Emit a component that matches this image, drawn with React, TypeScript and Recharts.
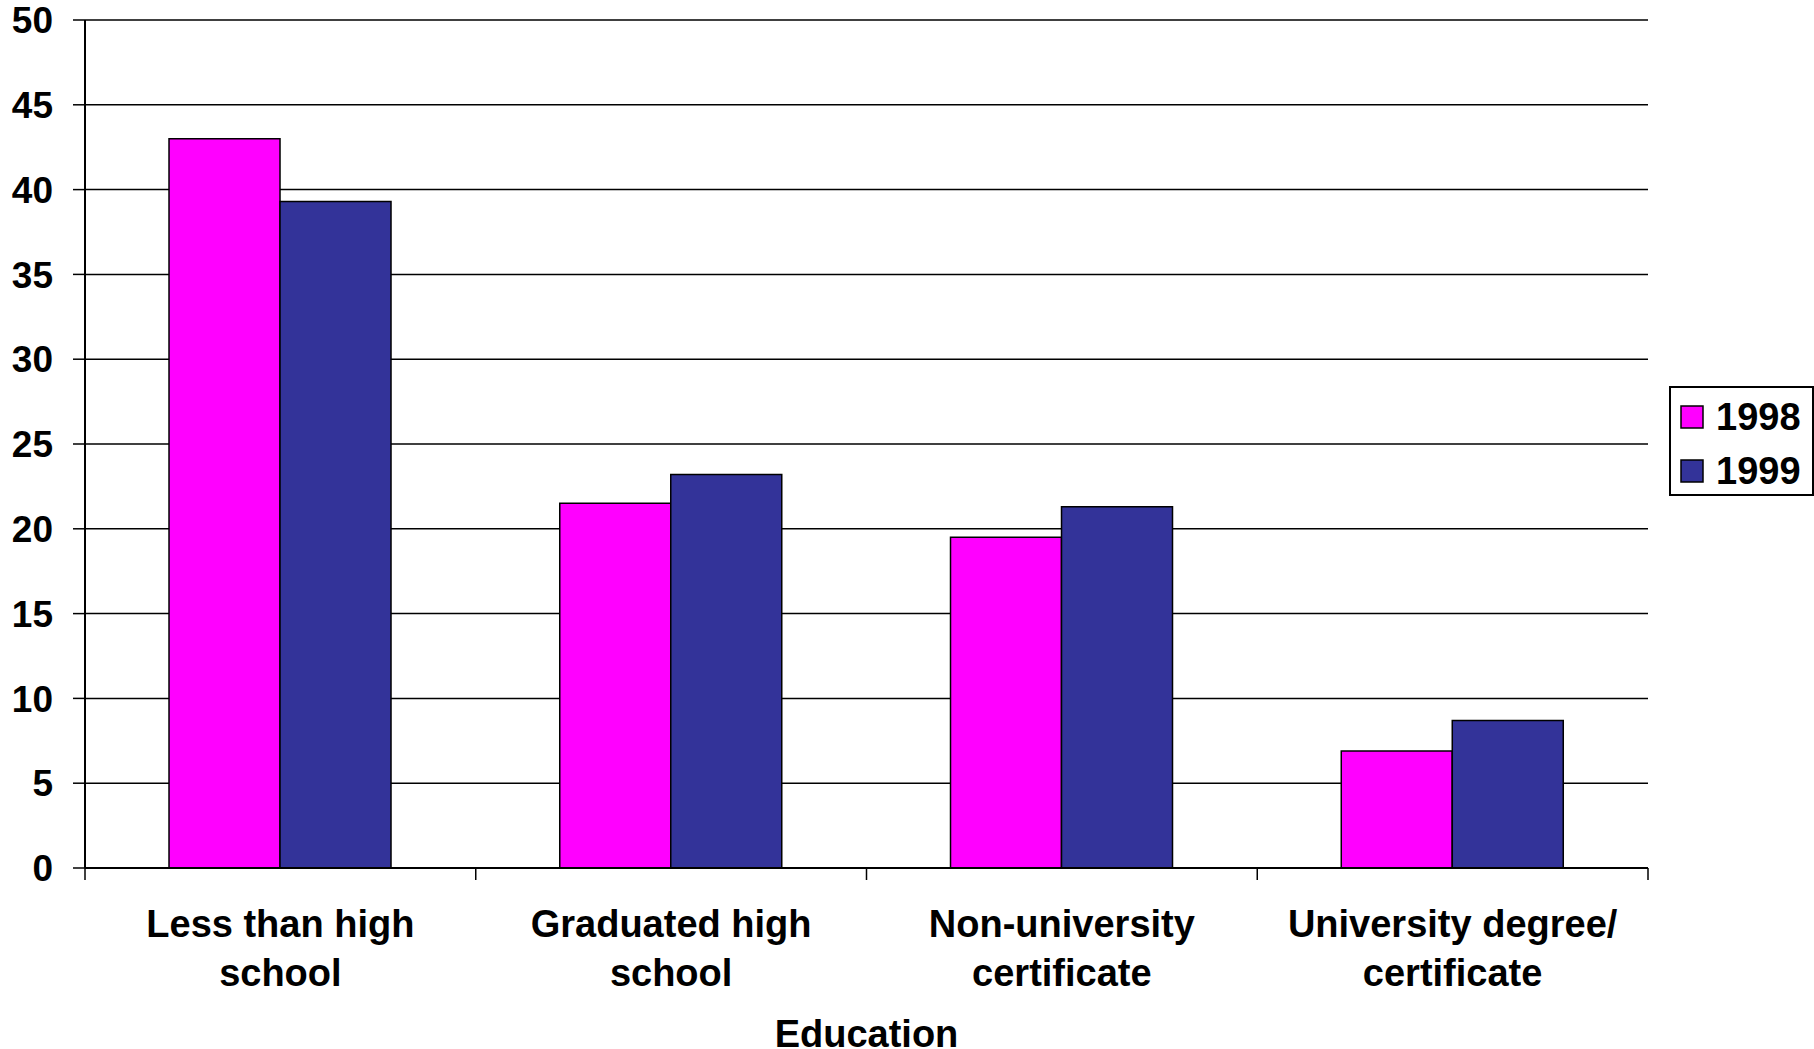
import React from 'react';
import { BarChart, Bar, XAxis, YAxis, CartesianGrid, Legend } from 'recharts';

const categories = [
  'Less than high school',
  'Graduated high school',
  'Non-university certificate',
  'University degree/ certificate',
];
const categoryLines = [
  ['Less than high', 'school'],
  ['Graduated high', 'school'],
  ['Non-university', 'certificate'],
  ['University degree/', 'certificate'],
];
const values1998 = [43, 21.5, 19.5, 6.9];
const values1999 = [39.3, 23.2, 21.3, 8.7];
const yTicks = [0, 5, 10, 15, 20, 25, 30, 35, 40, 45, 50];

const data = categories.map((c, i) => ({
  name: c,
  y1998: values1998[i],
  y1999: values1999[i],
}));

const FONT = '"Liberation Sans", Arial, Helvetica, sans-serif';

// Category labels on two lines, with tick marks drawn on the band boundaries
const CategoryTick = (props: any) => {
  const { x, y, payload, index } = props;
  const half = payload && typeof payload.offset === 'number' ? payload.offset : 0;
  const lines = categoryLines[index] || [String(payload.value)];
  const last = index === categories.length - 1;
  return (
    <g>
      <line x1={x - half} x2={x - half} y1={y} y2={y + 12} stroke="#000" strokeWidth={1.5} />
      {last && (
        <line x1={x + half} x2={x + half} y1={y} y2={y + 12} stroke="#000" strokeWidth={1.5} />
      )}
      <text
        x={x}
        y={y}
        textAnchor="middle"
        fontFamily={FONT}
        fontWeight="bold"
        fontSize={38}
        fill="#000"
      >
        <tspan x={x} dy={69}>{lines[0]}</tspan>
        <tspan x={x} dy={49}>{lines[1]}</tspan>
      </text>
    </g>
  );
};

const LegendBox = (props: any) => {
  const items = props.payload || [];
  return (
    <svg width={145} height={110} style={{ display: 'block' }}>
      <rect x={1} y={1} width={143} height={108} fill="#fff" stroke="#000" strokeWidth={2} />
      {items.map((it: any, i: number) => (
        <g key={i}>
          <rect
            x={12}
            y={20 + i * 54}
            width={22}
            height={22}
            fill={it.color}
            stroke="#000"
            strokeWidth={1.5}
          />
          <text
            x={47}
            y={44 + i * 54}
            fontFamily={FONT}
            fontWeight="bold"
            fontSize={38}
            fill="#000"
          >
            {it.value}
          </text>
        </g>
      ))}
    </svg>
  );
};

export default function App() {
  return (
    <div style={{ position: 'absolute', left: 0, top: 0, width: 1814, height: 1049, background: '#fff' }}>
      <BarChart
        width={1814}
        height={1049}
        data={data}
        margin={{ top: 20, right: 166, bottom: 0, left: 0 }}
        barCategoryGap="21.5%"
        barGap={0}
      >
        <CartesianGrid vertical={false} stroke="#000" strokeWidth={1.5} />
        <XAxis
          dataKey="name"
          height={181}
          tickSize={0}
          tickMargin={0}
          tickLine={false}
          axisLine={{ stroke: '#000', strokeWidth: 2 }}
          interval={0}
          tick={<CategoryTick />}
          label={{
            value: 'Education',
            position: 'insideBottom',
            offset: 2,
            style: { fontFamily: FONT, fontWeight: 'bold', fontSize: 38, fill: '#000' },
          }}
        />
        <YAxis
          width={85}
          domain={[0, 50]}
          ticks={yTicks}
          interval={0}
          tickSize={12}
          tickMargin={20}
          axisLine={{ stroke: '#000', strokeWidth: 2 }}
          tickLine={{ stroke: '#000', strokeWidth: 1.5 }}
          tick={{ fontFamily: FONT, fontWeight: 'bold', fontSize: 37, fill: '#000' }}
        />
        <YAxis
          yAxisId="frame"
          orientation="right"
          width={0}
          domain={[0, 50]}
          tick={false}
          tickLine={false}
          axisLine={{ stroke: '#000', strokeWidth: 2 }}
        />
        <Legend
          layout="horizontal"
          align="center"
          verticalAlign="middle"
          content={<LegendBox />}
          wrapperStyle={{ position: 'absolute', left: 1669, top: 386, width: 145, height: 110 }}
        />
        <Bar dataKey="y1998" name="1998" fill="#FF00FF" stroke="#000" strokeWidth={1.5} isAnimationActive={false} />
        <Bar dataKey="y1999" name="1999" fill="#333399" stroke="#000" strokeWidth={1.5} isAnimationActive={false} />
      </BarChart>
    </div>
  );
}
